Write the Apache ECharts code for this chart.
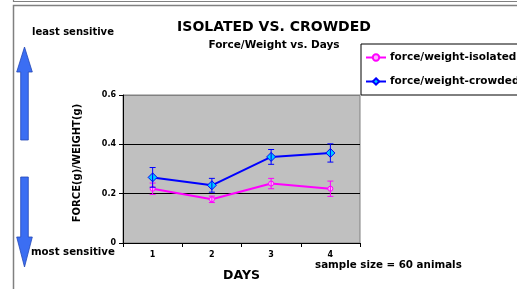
<!DOCTYPE html>
<html>
<head>
<meta charset="utf-8">
<script src="https://cdn.jsdelivr.net/npm/echarts@6/dist/echarts.min.js"></script>
<style>
  html, body { margin: 0; padding: 0; background: #fff; }
  #chart { width: 517px; height: 289px; }
</style>
</head>
<body>
<div id="chart"></div>
<script>
const days = ['1', '2', '3', '4']
const isolated = [0.220, 0.177, 0.241, 0.220]
const isolatedErr = [0.023, 0.013, 0.021, 0.031]
const crowded = [0.266, 0.234, 0.349, 0.365]
const crowdedErr = [0.040, 0.028, 0.030, 0.037]
const seriesNames = ['force/weight-isolated', 'force/weight-crowded']

const FONT = 'DejaVu Sans'

const chart = echarts.init(document.getElementById('chart'))

const errorBars = (vals, errs) => vals.map((v, i) => [i, v - errs[i], v + errs[i]])

const renderError = color => (params, api) => {
  const low = api.coord([api.value(0), api.value(1)])
  const high = api.coord([api.value(0), api.value(2)])
  const w = 3
  const style = { stroke: color, lineWidth: 1 }
  return {
    type: 'group',
    children: [
      { type: 'line', shape: { x1: low[0], y1: low[1], x2: high[0], y2: high[1] }, style },
      { type: 'line', shape: { x1: low[0] - w, y1: low[1], x2: low[0] + w, y2: low[1] }, style },
      { type: 'line', shape: { x1: high[0] - w, y1: high[1], x2: high[0] + w, y2: high[1] }, style }
    ]
  }
}

const arrowStyle = { fill: '#3b6ef3', stroke: '#2447b5', lineWidth: 0.8 }

const option = {
  animation: false,
  textStyle: { fontFamily: FONT, fontWeight: 'bold', color: '#000' },
  title: {
    text: 'ISOLATED VS. CROWDED',
    subtext: 'Force/Weight vs. Days',
    left: 269,
    top: 15,
    textAlign: 'center',
    itemGap: 6,
    textStyle: { fontFamily: FONT, fontWeight: 'bold', fontSize: 14, color: '#000' },
    subtextStyle: { fontFamily: FONT, fontWeight: 'bold', fontSize: 10.5, color: '#000' }
  },
  legend: {
    orient: 'vertical',
    left: 361,
    top: 44,
    padding: [8, 30, 8, 4],
    itemGap: 13,
    itemWidth: 20,
    itemHeight: 8,
    borderColor: '#000',
    borderWidth: 1,
    backgroundColor: '#fff',
    textStyle: { fontFamily: FONT, fontWeight: 'bold', fontSize: 10.5, color: '#000', padding: [0, 0, 0, -1] },
    data: seriesNames
  },
  grid: {
    left: 123,
    right: 157,
    top: 95,
    bottom: 46,
    show: true,
    backgroundColor: '#c0c0c0',
    borderColor: '#808080',
    borderWidth: 1
  },
  xAxis: {
    type: 'category',
    data: days,
    boundaryGap: true,
    name: 'DAYS',
    nameLocation: 'middle',
    nameGap: 26,
    nameTextStyle: { fontFamily: FONT, fontWeight: 'bold', fontSize: 12.5, color: '#000' },
    axisLine: { lineStyle: { color: '#000', width: 1 } },
    axisTick: { show: true, length: 4, inside: false, lineStyle: { color: '#000' } },
    axisLabel: { fontFamily: FONT, fontWeight: 'bold', fontSize: 8, color: '#000', margin: 8 }
  },
  yAxis: {
    type: 'value',
    min: 0,
    max: 0.6,
    interval: 0.2,
    axisLine: { show: true, lineStyle: { color: '#000', width: 1 } },
    axisTick: { show: true, length: 4, lineStyle: { color: '#000' } },
    axisLabel: { fontFamily: FONT, fontWeight: 'bold', fontSize: 8, color: '#000', margin: 7 },
    splitLine: { show: true, lineStyle: { color: ['#000', '#000', '#000', '#808080'], width: 1 } }
  },
  graphic: [
    { type: 'rect', shape: { x: 13.5, y: -50, width: 600, height: 51.5 }, style: { fill: 'none', stroke: '#808080', lineWidth: 1.2 } },
    { type: 'rect', shape: { x: 13.5, y: 5.5, width: 600, height: 400 }, style: { fill: 'none', stroke: '#808080', lineWidth: 1.5 } },
    {
      type: 'polygon',
      shape: { points: [[24.5, 47], [32.3, 72], [28.3, 72], [28.3, 140], [20.7, 140], [20.7, 72], [16.7, 72]] },
      style: arrowStyle
    },
    {
      type: 'polygon',
      shape: { points: [[20.7, 177], [28.3, 177], [28.3, 237], [32.3, 237], [24.5, 267], [16.7, 237], [20.7, 237]] },
      style: arrowStyle
    },
    { type: 'text', left: 32, top: 27, style: { text: 'least sensitive', font: 'bold 10px "DejaVu Sans"', fill: '#000' } },
    { type: 'text', left: 31, top: 247, style: { text: 'most sensitive', font: 'bold 10.2px "DejaVu Sans"', fill: '#000' } },
    {
      type: 'text',
      x: 77,
      y: 163,
      rotation: Math.PI / 2,
      style: { text: 'FORCE(g)/WEIGHT(g)', font: 'bold 10px "DejaVu Sans"', fill: '#000', align: 'center', verticalAlign: 'middle' }
    },
    { type: 'text', left: 315, top: 260, style: { text: 'sample size = 60 animals', font: 'bold 10.3px "DejaVu Sans"', fill: '#000' } }
  ],
  series: [
    {
      name: seriesNames[0],
      type: 'line',
      data: isolated,
      symbol: 'circle',
      symbolSize: 5,
      lineStyle: { color: '#ff00ff', width: 2 },
      itemStyle: { color: '#ffb0ff', borderColor: '#ff00ff', borderWidth: 1 },
      z: 3
    },
    {
      name: seriesNames[1],
      type: 'line',
      data: crowded,
      symbol: 'diamond',
      symbolSize: 9,
      lineStyle: { color: '#0000ff', width: 2 },
      itemStyle: { color: '#00ccff', borderColor: '#0000ff', borderWidth: 1 },
      z: 3
    },
    {
      type: 'custom',
      renderItem: renderError('#ff00ff'),
      data: errorBars(isolated, isolatedErr),
      encode: { x: 0, y: [1, 2] },
      z: 4
    },
    {
      type: 'custom',
      renderItem: renderError('#0000ff'),
      data: errorBars(crowded, crowdedErr),
      encode: { x: 0, y: [1, 2] },
      z: 4
    }
  ]
}

chart.setOption(option)
</script>
</body>
</html>
